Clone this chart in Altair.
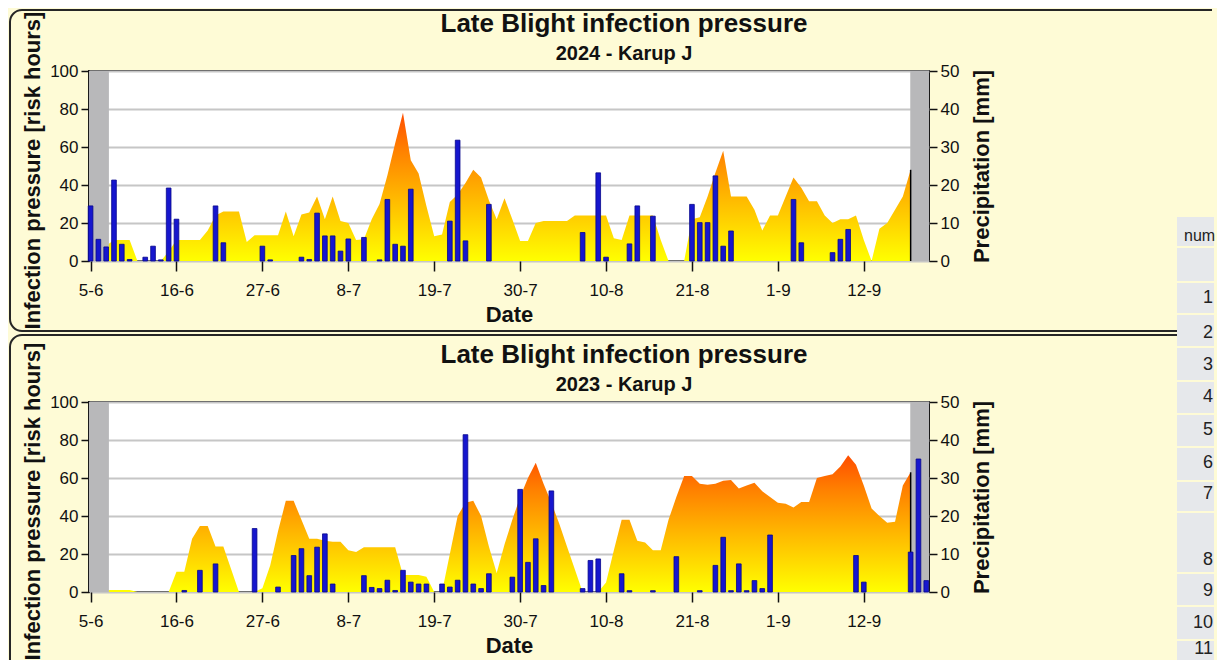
import altair as alt
import pandas as pd

# ---------------- data ----------------
TITLE = "Late Blight infection pressure"
SUBTITLES = ["2024 - Karup J", "2023 - Karup J"]

TICK_DAYS = [0, 11, 22, 33, 44, 55, 66, 77, 88, 99]
TICK_LABELS = ["5-6", "16-6", "27-6", "8-7", "19-7", "30-7", "10-8", "21-8", "1-9", "12-9"]
X_DOMAIN = [-0.2, 107.35]

# off-season (grey) bands, in days after 5-6
BAND_START = [-0.2, 104.95]
BAND_END = [2.35, 107.35]

# infection pressure (risk hours), one value per day, days 2..105
AREA_DAYS = list(range(2, 106))
RISK_2024 = [
    8, 11, 11, 11, 0, 0, 0, 0, 5, 11,
    11, 11, 11, 16, 24, 26, 26, 26, 10, 13.5,
    13.5, 13.5, 13.5, 26, 13, 24.5, 25.5, 34, 22, 34,
    21, 20, 11, 11.5, 22, 30, 45, 62, 78, 53,
    46, 29, 13, 14, 31, 35, 41, 48, 44, 32,
    22, 33, 22, 10.5, 10.5, 20, 21, 21, 21, 21,
    24, 24, 24, 24, 24, 12, 11, 24, 24, 24,
    24, 11, 0, 0, 0, 22, 23, 34, 46.5, 58,
    34, 34, 34, 27, 16, 24, 24, 34, 44, 38.5,
    31.5, 31.5, 24, 20, 22, 22, 24, 11, 0, 17,
    20, 27, 34, 48,
]
RISK_2023 = [
    1, 1, 1, 1, 0, 0, 0, 0, 0, 10.6,
    10.6, 28, 34.7, 34.7, 24, 24, 12, 0, 0, 0,
    2, 14, 32, 48, 48, 38, 28, 28, 27, 26.5,
    26.5, 22, 21, 23.5, 23.5, 23.5, 23.5, 23.5, 9, 9,
    9, 8, 0, 0, 20, 40, 47, 48, 40, 24,
    10, 25, 38, 50, 60, 68, 57, 47, 36, 24,
    12, 0, 0, 0, 5, 22, 38, 38, 27, 26,
    22, 22, 38, 50, 61, 61, 57, 56.5, 57, 58.5,
    59, 54.5, 56, 57.5, 53, 50, 47, 46.5, 44.5, 47.4,
    47.4, 60, 61, 62, 66, 72, 67, 56, 44, 40,
    36.5, 37, 56, 63,
]

# precipitation (mm)
RAIN_2024_DAYS = [0, 1, 2, 3, 4, 5, 7, 8, 9, 10, 11, 16, 17, 22, 23, 27, 28, 29, 30, 31,
                  32, 33, 35, 37, 38, 39, 40, 41, 46, 47, 48, 51, 63, 65, 66, 69, 70, 72,
                  77, 78, 79, 80, 81, 82, 90, 91, 95, 96, 97]
RAIN_2024_MM = [14.5, 5.7, 3.7, 21.3, 4.4, 0.4, 1.0, 3.9, 0.3, 19.2, 11, 14.5, 4.8, 3.9, 0.3,
                1.0, 0.4, 12.6, 6.6, 6.6, 2.6, 5.8, 6.2, 0.3, 16.2, 4.4, 3.9, 18.9, 10.5,
                31.8, 5.3, 14.9, 7.5, 23.2, 1.0, 4.5, 14.5, 11.8, 14.9, 10.1, 10.1, 22.4,
                3.9, 7.9, 16.2, 4.8, 2.2, 5.7, 8.3]
RAIN_2023_DAYS = [12, 14, 16, 21, 24, 26, 27, 28, 29, 30, 31, 35, 36, 37, 38, 39, 40, 41, 42,
                  43, 45, 46, 47, 48, 49, 50, 51, 54, 55, 56, 57, 58, 59, 63, 64, 65, 68,
                  69, 72, 75, 78, 80, 81, 82, 83, 84, 85, 86, 87, 98, 99, 105, 106, 107]
RAIN_2023_MM = [0.4, 5.7, 7.4, 16.7, 1.3, 9.6, 11.4, 4.3, 11.8, 15.3, 2.1, 4.3, 1.2, 0.9, 3.1,
                0.4, 5.7, 2.6, 2.1, 2.1, 2.1, 1.3, 3.1, 41.4, 2.1, 0.9, 4.8, 3.9, 27, 7.8,
                14, 1.7, 26.6, 0.9, 8.3, 8.7, 4.8, 0.35, 0.35, 9.3, 0.35, 7, 14.4, 0.35,
                7.4, 0.35, 3, 0.9, 15, 9.6, 2.6, 10.5, 35, 3]

# partially visible page table at the right edge (page pixel rows)
TABLE_LABELS = ["num", "", "1", "2", "3", "4", "5", "6", "7", "8", "9", "10", "11"]
ROW_TOPS = [217, 248, 283, 315, 348, 382, 415, 448, 482, 513, 574, 607, 641]
ROW_BOTS = [246, 281, 313, 346, 380, 413, 446, 480, 511, 572, 605, 639, 700]
ROW_TEXT = [236, 265, 298, 333, 365, 397, 430, 463, 494, 560, 591, 623, 649]

# ---------------- styling ----------------
W, H = 840, 190
TOP0 = 71            # page y of the first plot's top edge
LEFT0 = 89           # page x of the plot's left edge
RIGHT_EDGE = 1214    # last page x that may be drawn on (no horizontal overflow)
BG = "#FEFBD6"
FONT = "Liberation Sans"
DARK = "#111111"
ONE = pd.DataFrame({"k": [0]})

label_expr = ("[" + ",".join("'%s'" % s for s in TICK_LABELS) + "][indexof(["
              + ",".join(str(d) for d in TICK_DAYS) + "], datum.value)]")

gradient = alt.Gradient(
    gradient="linear",
    stops=[alt.GradientStop(color="#FFFF00", offset=0),
           alt.GradientStop(color="#FFB400", offset=0.45),
           alt.GradientStop(color="#FF8000", offset=0.75),
           alt.GradientStop(color="#FF4D00", offset=1)],
    x1=0, x2=0, y1=1, y2=0,
)


def deco_rect(x1, x2, y1, y2, **kw):
    return alt.Chart(ONE).mark_rect(**kw).encode(
        x=alt.value(x1), x2=alt.value(x2), y=alt.value(y1), y2=alt.value(y2))


def deco_text(txt, x, y, **kw):
    return alt.Chart(ONE).mark_text(**kw).encode(
        x=alt.value(x), y=alt.value(y), text=alt.value(txt))


def panel(subtitle, risk, rain_days, rain_mm, frame, extra):
    xs = alt.Scale(domain=X_DOMAIN, nice=False, zero=False)
    x_axis = alt.Axis(values=TICK_DAYS, labelExpr=label_expr, title="Date", grid=False,
                      domain=False, tickSize=10, tickWidth=1.5, labelFontSize=17,
                      labelPadding=11, titleFontSize=22, titleFontWeight="bold",
                      titlePadding=6)
    left_axis = alt.Axis(values=[0, 20, 40, 60, 80, 100], grid=True, gridColor="#C6C6C6",
                         gridWidth=2, domain=False, tickSize=8, tickWidth=1.5,
                         labelFontSize=17, labelPadding=3,
                         title="Infection pressure [risk hours]", titleFontSize=22,
                         titleFontWeight="bold", titlePadding=5, titleY=99)
    right_axis = alt.Axis(orient="right", values=[0, 10, 20, 30, 40, 50], grid=False,
                          domain=False, tickSize=8, tickWidth=1.5, labelFontSize=17,
                          labelPadding=3, title="Precipitation [mm]", titleFontSize=22,
                          titleFontWeight="bold", titleAngle=270, titleBaseline="top",
                          titlePadding=13)

    area_df = pd.DataFrame({"day": AREA_DAYS, "risk": risk})
    rain_df = pd.DataFrame({"day": rain_days, "mm": rain_mm})
    band_df = pd.DataFrame({"start": BAND_START, "end": BAND_END})

    area = alt.Chart(area_df).mark_area(color=gradient, interpolate="linear").encode(
        x=alt.X("day:Q", scale=xs, axis=x_axis),
        y=alt.Y("risk:Q", scale=alt.Scale(domain=[0, 100], nice=False), axis=left_axis),
    )
    bands = alt.Chart(band_df).mark_rect(color="#B8B8BA").encode(
        x=alt.X("start:Q", scale=xs, axis=x_axis), x2="end:Q",
        y=alt.value(0), y2=alt.value(H),
    )
    end_line = alt.Chart(area_df).transform_filter(
        "datum.day == %d" % AREA_DAYS[-1]
    ).mark_rule(color="black", strokeWidth=1.5).encode(
        x=alt.X("day:Q", scale=xs, axis=x_axis),
        y=alt.Y("risk:Q", scale=alt.Scale(domain=[0, 100], nice=False), axis=None),
        y2=alt.datum(0),
    )
    bars = alt.Chart(rain_df).transform_calculate(
        lo="datum.day - 0.3", hi="datum.day + 0.3"
    ).mark_rect(fill="#1616CE", stroke="#06068C", strokeWidth=0.8).encode(
        x=alt.X("lo:Q", scale=xs, axis=x_axis), x2="hi:Q",
        y=alt.Y("mm:Q", scale=alt.Scale(domain=[0, 50], nice=False), axis=right_axis),
        y2=alt.datum(0),
    )
    t1 = deco_text(TITLE, 535, -39.5, fontSize=26, fontWeight="bold", align="center",
                   baseline="alphabetic", color=DARK)
    t2 = deco_text(subtitle, 535, -11.5, fontSize=20, fontWeight="bold", align="center",
                   baseline="alphabetic", color=DARK)

    layers = [area, bands, end_line, bars, frame, t1, t2] + extra
    return alt.layer(*layers).resolve_scale(y="independent").properties(width=W, height=H)


# frames (panel borders); their right side ends at the page's right edge
FX1, FX2 = -79, RIGHT_EDGE - 2 - LEFT0
FW = FX2 - FX1
top_frame = deco_rect(FX1, FX2, -61, 260, fill="transparent", stroke="#262626",
                      strokeWidth=2, cornerRadiusTopLeft=12, cornerRadiusBottomLeft=12,
                      strokeDash=[FW - 12, 260 + 61, 6000])
bh = 300 + 67
vis_top = (1177 - LEFT0) - (FX1 + 12)
bottom_frame = deco_rect(FX1, FX2, -67, 300, fill="transparent", stroke="#262626",
                         strokeWidth=2, cornerRadiusTopLeft=12,
                         strokeDash=[vis_top, (FW - 12 - vis_top) + bh + FW, 6000])

# table drawn with the first panel (page coordinates shifted to its plot origin)
table = []
for lab, t, b, ty in zip(TABLE_LABELS, ROW_TOPS, ROW_BOTS, ROW_TEXT):
    table.append(deco_rect(1177 - LEFT0, RIGHT_EDGE - LEFT0, t - TOP0, b - TOP0,
                           fill="#E6E8EB"))
    if lab == "num":
        table.append(deco_text(lab, 1184 - LEFT0, ty - TOP0, fontSize=16, align="left",
                               baseline="middle", color="#222222"))
    elif lab:
        table.append(deco_text(lab, RIGHT_EDGE - 1 - LEFT0, ty - TOP0, fontSize=18,
                               align="right", baseline="middle", color="#222222"))

top = panel(SUBTITLES[0], RISK_2024, RAIN_2024_DAYS, RAIN_2024_MM, top_frame, table)
bottom = panel(SUBTITLES[1], RISK_2023, RAIN_2023_DAYS, RAIN_2023_MM, bottom_frame, [])

chart = alt.vconcat(top, bottom, spacing=402 - TOP0 - H, bounds="flush").properties(
    padding=0, background=BG
).configure(font=FONT).configure_view(
    fill="white", stroke="#1A1A1A", strokeWidth=2
).configure_axis(
    labelFont=FONT, titleFont=FONT, labelColor=DARK, titleColor=DARK, tickColor=DARK
)

chart.save("out.html", embed_options={"renderer": "svg", "actions": False})
